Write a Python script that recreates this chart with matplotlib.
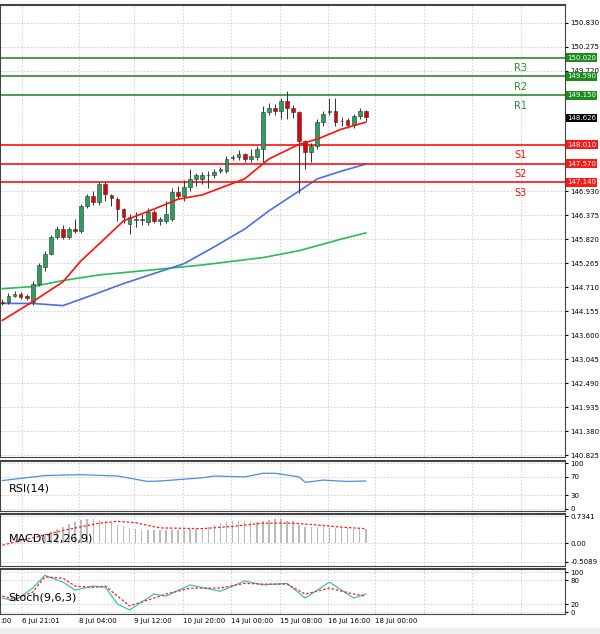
import matplotlib
matplotlib.use("Agg")
import matplotlib.pyplot as plt
import numpy as np

opens  = [144.38,144.38,144.52,144.56,144.52,144.38,144.80,145.19,145.49,145.88,146.06,145.88,146.06,146.02,146.59,146.82,146.69,147.10,146.85,146.75,
          146.52,146.18,146.27,146.27,146.22,146.45,146.25,146.25,146.29,146.91,146.82,147.03,147.22,147.22,147.31,147.31,147.40,147.40,147.70,147.72,
          147.79,147.68,147.72,147.90,148.76,148.85,148.78,149.03,148.87,148.76,148.09,147.84,147.98,148.53,148.76,148.80,148.55,148.57,148.46,148.67,148.78]
closes = [144.36,144.52,144.56,144.50,144.47,144.80,145.23,145.49,145.88,146.06,145.88,146.06,146.02,146.59,146.82,146.69,147.10,146.87,146.78,146.52,
          146.34,146.34,146.27,146.27,146.45,146.25,146.30,146.40,146.91,146.82,147.03,147.22,147.30,147.31,147.30,147.38,147.44,147.67,147.72,147.79,
          147.68,147.74,147.90,148.76,148.85,148.78,149.01,148.87,148.76,148.09,147.84,147.98,148.53,148.71,148.80,148.53,148.55,148.46,148.67,148.78,148.64]
highs  = [144.45,144.58,144.62,144.60,144.55,144.85,145.28,145.55,145.92,146.12,146.15,146.10,146.30,146.65,146.88,146.95,147.15,147.15,146.88,146.80,
          146.55,146.40,146.45,146.40,146.55,146.50,146.35,146.70,147.00,147.05,147.20,147.45,147.35,147.38,147.40,147.45,147.50,147.75,147.78,147.88,
          147.82,147.90,147.98,148.90,148.98,148.95,149.10,149.25,148.92,148.80,148.12,148.05,148.60,148.80,149.10,149.10,148.65,148.62,148.72,148.85,148.82]
lows   = [144.30,144.33,144.48,144.45,144.42,144.30,144.75,145.10,145.45,145.84,145.82,145.84,145.98,145.98,146.55,146.62,146.62,146.70,146.60,146.25,
          146.20,145.95,146.10,146.15,146.15,146.20,146.15,146.20,146.25,146.75,146.70,146.95,147.05,147.10,147.00,147.25,147.35,147.35,147.65,147.65,
          147.60,147.62,147.65,147.60,148.70,148.70,148.60,148.60,148.62,146.90,147.45,147.60,147.90,148.45,148.70,148.45,148.45,148.40,148.40,148.60,148.55]

ma_red_idx = [0,5,10,13,16,20,25,29,33,40,44,49,52,56,60]
ma_red = [143.95,144.38,144.84,145.33,145.72,146.25,146.52,146.75,146.85,147.22,147.68,148.02,148.14,148.37,148.53]
ma_blue_idx = [0,5,10,15,20,25,30,35,40,44,49,52,56,60]
ma_blue = [144.34,144.34,144.29,144.54,144.80,145.03,145.26,145.65,146.06,146.48,146.94,147.22,147.40,147.56]
ma_green_idx = [0,5,10,16,25,33,43,49,56,60]
ma_green = [144.68,144.73,144.87,145.00,145.12,145.23,145.40,145.56,145.83,145.97]

res_levels = [150.020, 149.590, 149.150]
res_names = ["R3", "R2", "R1"]
sup_levels = [148.010, 147.570, 147.140]
sup_names = ["S1", "S2", "S3"]
last_price = 148.626
price_ticks = [150.830,150.275,149.720,146.930,146.375,145.820,145.265,144.710,144.155,143.600,143.045,142.490,141.935,141.380,140.825]

rsi_idx = [0,7,13,19,24,26,33,35,40,43,45,49,50,53,57,60]
rsi = [62,73,75,72,60,61,68,72,70,78,78,70,58,63,60,61]

macd_hist = [0,0,0,0,0,0,0,0.20,0.30,0.38,0.45,0.52,0.58,0.63,0.65,0.66,0.64,0.60,0.55,0.50,
             0.46,0.43,0.40,0.37,0.36,0.35,0.35,0.35,0.35,0.36,0.37,0.38,0.38,0.40,0.45,0.50,0.55,0.58,0.60,0.62,
             0.62,0.60,0.58,0.60,0.64,0.66,0.65,0.62,0.60,0.50,0.45,0.45,0.45,0.44,0.44,0.43,0.42,0.41,0.40,0.40,0.40]
macd_sig_idx = [0,5,10,16,19,22,26,33,38,43,48,52,56,60]
macd_sig = [-0.05,0.15,0.35,0.55,0.60,0.56,0.42,0.40,0.46,0.55,0.55,0.50,0.44,0.40]

stoch_idx = [0,2,5,7,10,12,15,17,19,21,25,27,31,36,40,43,47,50,54,58,60]
stoch_k = [35,28,60,92,75,55,65,62,20,5,45,40,68,52,78,68,72,35,75,35,45]
stoch_d = [40,32,50,88,85,65,62,65,40,15,35,45,60,60,72,70,70,45,60,45,40]

first_label = ":00"
time_labels = ["6 Jul 21:01","8 Jul 04:00","9 Jul 12:00","10 Jul 20:00","14 Jul 00:00","15 Jul 08:00","16 Jul 16:00","18 Jul 00:00"]
time_idx = [3.3,12.7,21.7,29.8,37.8,45.8,53.8,61.6]

W, H = 600, 634
fig = plt.figure(figsize=(6, 6.34), dpi=100)
def ax_at(top, bottom, left=0, right=565):
    return fig.add_axes([left/W, 1-bottom/H, (right-left)/W, (bottom-top)/H])

xlim = (-0.4, 92.9)
grid_idx = time_idx + [69.6, 77.6, 85.6]

def style(ax):
    ax.yaxis.tick_right()
    ax.tick_params(axis='y', length=2, pad=2, labelsize=5)
    ax.tick_params(axis='x', length=0, labelbottom=False)
    ax.set_xticks(grid_idx)
    ax.set_xlim(*xlim)
    ax.grid(True, color="#cccccc", linestyle=(0, (2, 2)), linewidth=0.6)
    for s in ax.spines.values():
        s.set_color("#444444"); s.set_linewidth(0.8)
    ax.spines['top'].set_linewidth(1.5)

def tag(ax, lv, fc):
    ax.annotate(f"{lv:.3f}", (1.0, lv), xycoords=("axes fraction", "data"), xytext=(1.5, 0), textcoords="offset points",
                fontsize=5, color="white", va="center", ha="left",
                bbox=dict(boxstyle="square,pad=0.2", fc=fc, ec="none"), annotation_clip=False, zorder=10)

# main
ax = ax_at(5, 457)
for i in range(len(opens)):
    o, c, h, l = opens[i], closes[i], highs[i], lows[i]
    ax.vlines(i, l, h, color="#333333", linewidth=0.7, zorder=3)
    col = "#2e9e5e" if c >= o else "#e00000"
    bot, top = min(o, c), max(o, c)
    ax.bar(i, max(top-bot, 0.012), bottom=bot, width=0.62, color=col, edgecolor="#333333", linewidth=0.4, zorder=4)
ax.plot(ma_green_idx, ma_green, color="#2fb85a", lw=1.2, zorder=2)
ax.plot(ma_blue_idx, ma_blue, color="#4a6fe0", lw=1.2, zorder=2)
ax.plot(ma_red_idx, ma_red, color="#ff1010", lw=1.2, zorder=5)
for lv, nm in zip(res_levels, res_names):
    ax.axhline(lv, color="#2e8b2e", lw=1.2, zorder=2)
    ax.text(85.6, lv-0.12, nm, color="#2e8b2e", fontsize=7, ha="center", va="top")
    tag(ax, lv, "#1e8a1e")
for lv, nm in zip(sup_levels, sup_names):
    ax.axhline(lv, color="#ff1010", lw=1.2, zorder=2)
    ax.text(85.6, lv-0.12, nm, color="#ff1010", fontsize=7, ha="center", va="top")
    tag(ax, lv, "#ff1a1a")
tag(ax, last_price, "black")
style(ax)
ax.set_ylim(140.79, 151.24)
ax.set_yticks(price_ticks)
ax.set_yticklabels([f"{t:.3f}" for t in price_ticks])

# RSI
ax1 = ax_at(461, 511)
ax1.plot(rsi_idx, rsi, color="#4a90e2", lw=0.9)
ax1.text(1, 38, "RSI(14)", fontsize=8)
style(ax1)
ax1.set_ylim(-5, 105)
ax1.set_yticks([0, 30, 70, 100])

# MACD
ax2 = ax_at(514, 566)
ax2.bar(range(len(macd_hist)), macd_hist, width=0.25, color="#bbbbbb")
ax2.plot(macd_sig_idx, macd_sig, color="#ff2020", lw=0.9, linestyle=(0, (2, 1.5)))
ax2.text(1, 0.05, "MACD(12,26,9)", fontsize=8)
style(ax2)
ax2.set_ylim(-0.62, 0.80)
ax2.set_yticks([0.7341, 0.0, -0.5089])
ax2.set_yticklabels(["0.7341", "0.00", "-0.5089"])

# Stoch
ax3 = ax_at(569, 614)
ax3.plot(stoch_idx, stoch_k, color="#40c0b0", lw=0.9)
ax3.plot(stoch_idx, stoch_d, color="#ff2020", lw=0.9, linestyle=(0, (2, 1.5)))
ax3.text(1, 30, "Stoch(9,6,3)", fontsize=8)
style(ax3)
ax3.set_ylim(-5, 108)
ax3.set_yticks([0, 20, 80, 100])
for xi, lab in zip(time_idx, time_labels):
    ax3.text(xi, -0.08, lab, transform=ax3.get_xaxis_transform(), fontsize=5, ha="left", va="top")
ax3.text(0, -0.08, first_label, transform=ax3.transAxes, fontsize=5, ha="left", va="top")

fig.patches.append(plt.Rectangle((0, 0), 1, 6/H, transform=fig.transFigure, color="#eeeeee", zorder=-1))
fig.savefig("out.png", dpi=100)
